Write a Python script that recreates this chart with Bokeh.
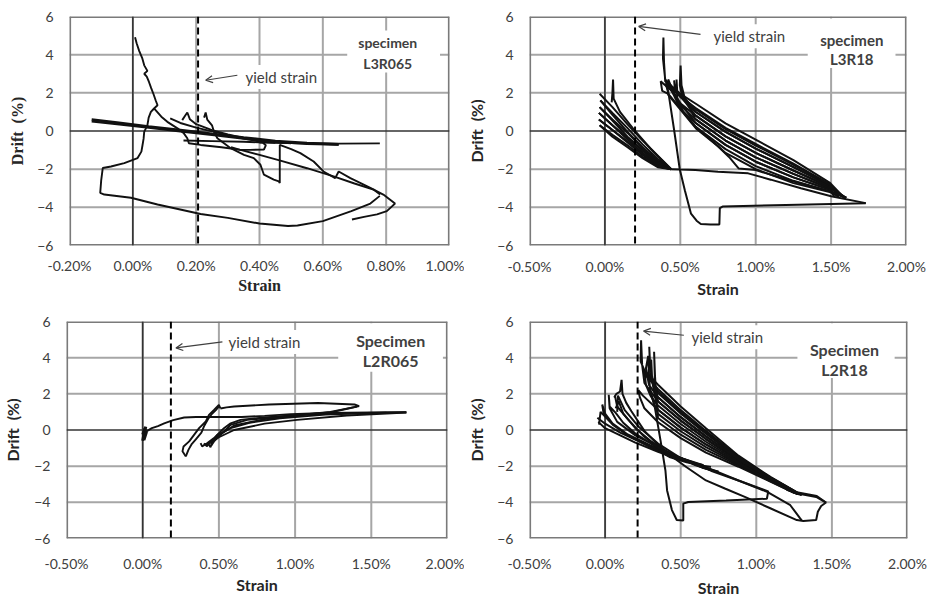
from bokeh.plotting import figure
from bokeh.layouts import column, row
from bokeh.models import (Span, Label, Arrow, OpenHead, BoxAnnotation, FixedTicker,
                          PrintfTickFormatter, Range1d)
from bokeh.embed import file_html
from bokeh.resources import INLINE

# ---------------- data (strain in %, drift in %) ----------------
DRIFT_TICKS = [-6, -4, -2, 0, 2, 4, 6]
STRAIN_TICKS_A = [-0.2, 0.0, 0.2, 0.4, 0.6, 0.8, 1.0]
STRAIN_TICKS_B = [-0.5, 0.0, 0.5, 1.0, 1.5, 2.0]

# specimen L3R065
l3r065_band_strain = [-0.13, -0.05, 0.05, 0.15, 0.25, 0.35, 0.45, 0.55, 0.65]
l3r065_band_drift_a = [0.60, 0.44, 0.24, 0.05, -0.15, -0.34, -0.52, -0.63, -0.70]
l3r065_band_drift_b = [0.50, 0.36, 0.17, -0.02, -0.21, -0.40, -0.57, -0.67, -0.72]
l3r065_strain = [
    [0.40, 0.55, 0.65, 0.78],
    [0.007, 0.012, 0.020, 0.030, 0.036, 0.046, 0.036, 0.044, 0.051, 0.058,
     0.066, 0.072, 0.078, 0.067, 0.057, 0.050, 0.046, 0.040, 0.036, 0.034,
     0.030, 0.027, 0.015, -0.027, -0.069, -0.095, -0.100, -0.103, -0.090, -0.006,
     0.078, 0.214, 0.30, 0.40, 0.49, 0.52, 0.60, 0.69, 0.75, 0.78],
    [0.067, 0.09, 0.109, 0.141, 0.160, 0.172, 0.177, 0.214, 0.28, 0.34,
     0.40, 0.466, 0.55, 0.634, 0.70, 0.76, 0.781],
    [0.16, 0.25, 0.35, 0.41, 0.42, 0.414, 0.37, 0.339, 0.31],
    [0.225, 0.23, 0.235, 0.25, 0.256, 0.267, 0.288, 0.309, 0.351, 0.382,
     0.403, 0.414, 0.445, 0.461, 0.464, 0.464, 0.50, 0.529, 0.571, 0.602,
     0.639, 0.65, 0.687, 0.75, 0.791, 0.828, 0.815, 0.802, 0.771, 0.73, 0.692],
    [0.118, 0.15, 0.20, 0.25, 0.30, 0.35, 0.40, 0.45],
    [0.156, 0.165, 0.172, 0.18, 0.20, 0.25, 0.30, 0.36, 0.42, 0.50],
]
l3r065_drift = [
    [-0.60, -0.64, -0.66, -0.65],
    [4.91, 4.60, 4.20, 3.80, 3.44, 3.15, 3.00, 2.85, 2.57, 2.25,
     1.90, 1.61, 1.35, 1.18, 1.00, 0.70, 0.31, 0.10, -0.03, -0.40,
     -0.80, -1.08, -1.42, -1.68, -1.86, -1.94, -2.60, -3.24, -3.33, -3.50,
     -3.85, -4.35, -4.55, -4.85, -4.98, -4.95, -4.72, -4.20, -3.80, -3.40],
    [1.18, 0.75, 0.48, 0.14, -0.10, -0.38, -0.64, -0.73, -0.85, -0.99,
     -1.25, -1.55, -1.95, -2.38, -2.75, -3.07, -3.33],
    [-0.50, -0.53, -0.56, -0.60, -0.75, -0.97, -0.99, -0.99, -0.85],
    [0.70, 0.97, 0.60, 0.30, -0.03, -0.38, -0.64, -0.90, -1.25, -1.42,
     -1.77, -2.29, -2.55, -2.64, -2.72, -0.73, -0.95, -1.16, -1.60, -2.12,
     -2.47, -2.12, -2.47, -2.98, -3.33, -3.80, -4.00, -4.20, -4.37, -4.50, -4.64],
    [0.66, 0.42, 0.18, -0.02, -0.22, -0.40, -0.55, -0.62],
    [0.57, 0.80, 0.97, 0.62, 0.36, 0.05, -0.18, -0.40, -0.55, -0.65],
]

# specimen L3R18
l3r18_strain = [
    [-0.035, 0.05, 0.15, 0.25, 0.35, 0.44, 0.35, 0.25, 0.15, 0.05, -0.03],
    [-0.03, 0.05, 0.15, 0.25, 0.35, 0.44, 0.35, 0.25, 0.15, 0.05, -0.035],
    [-0.035, 0.05, 0.15, 0.25, 0.35, 0.44, 0.35, 0.25, 0.15, 0.05, -0.04],
    [-0.04, 0.05, 0.15, 0.25, 0.35, 0.44, 0.35, 0.25, 0.15, 0.05, -0.04],
    [-0.04, 0.05, 0.15, 0.25, 0.35, 0.44, 0.35, 0.25, 0.15, 0.05, -0.035],
    [-0.035, 0.05, 0.15, 0.25, 0.35, 0.44],
    [0.045, 0.05, 0.054, 0.058, 0.10, 0.20, 0.30, 0.44],
    [0.44, 0.50, 0.60, 0.75, 0.95, 1.10, 1.30, 1.50, 1.73],
    [0.40, 0.42, 0.46, 0.496, 0.53, 0.571, 0.608, 0.636, 0.70, 0.759,
     0.762, 0.78, 1.20, 1.73],
    [1.58, 1.49, 1.25, 1.0, 0.8, 0.608, 0.50, 0.45, 0.40, 0.385, 0.388,
     0.392, 0.40, 0.45, 0.6, 0.8, 1.0, 1.25, 1.49, 1.55],
    [1.55, 1.49, 1.25, 1.0, 0.8, 0.6, 0.50, 0.47, 0.459,
     0.465, 0.5, 0.6, 0.8, 1.0, 1.25, 1.49, 1.58],
    [1.58, 1.49, 1.25, 1.0, 0.8, 0.6, 0.51, 0.497, 0.502,
     0.508, 0.53, 0.6, 0.8, 1.0, 1.25, 1.49, 1.6],
    [1.6, 1.49, 1.25, 1.0, 0.8, 0.6, 0.50, 0.45, 0.42,
     0.425, 0.45, 0.6, 0.8, 1.0, 1.25, 1.49, 1.52],
    [1.52, 1.49, 1.25, 1.0, 0.8, 0.6, 0.50, 0.45, 0.40, 0.37,
     0.38, 0.42, 0.6, 0.75, 0.823, 0.888, 1.0, 1.25, 1.49, 1.55],
    [1.55, 1.49, 1.25, 1.0, 0.8, 0.6, 0.50, 0.45, 0.41,
     0.42, 0.608, 0.75, 0.8, 1.0, 1.25, 1.49, 1.6],
    [1.6, 1.49, 1.25, 1.0, 0.8, 0.6, 0.52, 0.48, 0.475,
     0.48, 0.5, 0.6, 0.8, 1.0, 1.25, 1.49, 1.58],
]
l3r18_drift = [
    [1.95, 1.25, 0.35, -0.50, -1.30, -2.00, -1.55, -0.85, -0.05, 0.85, 1.60],
    [1.60, 0.95, 0.15, -0.70, -1.45, -2.00, -1.65, -1.00, -0.30, 0.55, 1.25],
    [1.25, 0.60, -0.10, -0.90, -1.60, -2.00, -1.75, -1.15, -0.45, 0.30, 0.95],
    [0.95, 0.30, -0.35, -1.05, -1.70, -2.00, -1.82, -1.25, -0.60, 0.05, 0.60],
    [0.60, 0.05, -0.55, -1.20, -1.78, -2.00, -1.90, -1.42, -0.85, -0.30, 0.30],
    [0.30, -0.20, -0.75, -1.35, -1.85, -2.00],
    [1.50, 2.00, 2.70, 1.70, 1.00, 0.00, -0.90, -2.00],
    [-2.00, -2.02, -2.05, -2.14, -2.22, -2.55, -3.00, -3.42, -3.78],
    [2.50, 2.08, 0.00, -1.99, -3.10, -4.33, -4.70, -4.87, -4.90, -4.90,
     -4.04, -3.96, -3.88, -3.78],
    [-3.44, -2.7, -1.53, -0.45, 0.4, 1.4, 1.95, 2.3, 2.7, 3.8, 4.9,
     3.6, 2.6, 2.18, 1.01, -0.05, -0.92, -1.89, -2.85, -3.4],
    [-3.4, -2.78, -1.71, -0.68, 0.17, 1.21, 1.8, 2.2, 2.65,
     2.1, 1.85, 0.82, -0.28, -1.15, -2.07, -2.92, -3.45],
    [-3.45, -2.85, -1.89, -0.92, -0.05, 1.01, 1.9, 2.4, 3.43,
     2.4, 1.7, 0.62, -0.5, -1.38, -2.25, -3.0, -3.5],
    [-3.5, -2.92, -2.07, -1.15, -0.28, 0.82, 1.45, 2.12, 2.7,
     2.4, 2.0, 0.43, -0.73, -1.61, -2.43, -3.07, -3.4],
    [-3.4, -3.0, -2.25, -1.38, -0.5, 0.62, 1.35, 2.06, 2.4, 2.6,
     2.1, 1.94, 0.23, -0.8, -1.36, -1.97, -2.05, -2.65, -3.15, -3.45],
    [-3.45, -3.07, -2.43, -1.61, -0.73, 0.43, 1.15, 2.0, 2.5,
     1.9, 0.1, -0.8, -1.15, -2.0, -2.73, -3.2, -3.5],
    [-3.5, -3.15, -2.61, -1.84, -0.95, 0.23, 1.0, 1.7, 2.7,
     2.0, 1.9, 1.15, 0.1, -0.76, -1.77, -2.8, -3.44],
]

# specimen L2R065
l2r065_knot_strain = [0.00, 0.015, 0.005, 0.02, 0.00, 0.018, 0.008, 0.025, 0.01]
l2r065_knot_drift = [-0.60, 0.10, -0.45, 0.18, -0.25, 0.05, -0.55, -0.10, -0.35]
l2r065_strain = [
    [0.00, 0.03, 0.06, 0.10, 0.141, 0.20, 0.272, 0.35, 0.45, 0.55,
     0.65, 0.80, 0.97, 1.20, 1.50, 1.73],
    [0.283, 0.261, 0.268, 0.305, 0.337, 0.37, 0.414, 0.435, 0.468, 0.50, 0.51],
    [0.283, 0.30, 0.32, 0.35, 0.385, 0.405, 0.43, 0.455, 0.48, 0.50],
    [0.51, 0.55, 0.60, 0.83, 1.15, 1.39, 1.42, 1.35, 1.25, 1.05,
     0.80, 0.60, 0.50, 0.45, 0.42, 0.40],
    [0.38, 0.39, 0.42, 0.468, 0.533, 0.577, 0.642, 0.80, 1.00, 1.30, 1.73],
    [0.435, 0.445, 0.46, 0.49, 0.577, 0.70, 0.90, 1.20, 1.60],
    [0.41, 0.42, 0.445, 0.50, 0.60, 0.80, 1.013, 1.34, 1.73],
    [0.45, 0.468, 0.50, 0.577, 0.686, 0.904, 1.231, 1.405],
]
l2r065_drift = [
    [-0.25, -0.05, 0.10, 0.22, 0.37, 0.55, 0.69, 0.72, 0.72, 0.72,
     0.72, 0.78, 0.88, 0.94, 0.97, 0.98],
    [-1.46, -1.18, -0.91, -0.63, -0.27, 0.10, 0.47, 0.84, 1.11, 1.39, 1.19],
    [-1.46, -1.10, -0.80, -0.50, -0.15, 0.25, 0.62, 0.90, 1.10, 1.30],
    [1.19, 1.25, 1.30, 1.41, 1.49, 1.41, 1.32, 1.19, 1.00, 0.83,
     0.60, 0.25, -0.30, -0.60, -0.85, -0.75],
    [-0.72, -0.91, -0.75, -0.45, 0.10, 0.37, 0.56, 0.70, 0.82, 0.92, 0.98],
    [-0.82, -0.95, -0.60, -0.27, 0.10, 0.40, 0.65, 0.85, 0.96],
    [-0.75, -0.90, -0.70, -0.40, 0.00, 0.35, 0.56, 0.80, 0.96],
    [-0.85, -0.63, -0.35, 0.28, 0.56, 0.74, 1.00, 1.29],
]

# specimen L2R18
l2r18_strain = [
    [-0.051, 0.0, 0.10, 0.217, 0.33, 0.431, 0.539, 0.646, 0.70],
    [0.60, 0.45, 0.30, 0.15, 0.05, -0.01, -0.019, 0.00, 0.05, 0.15, 0.30, 0.45, 0.60],
    [0.65, 0.50, 0.35, 0.20, 0.08, 0.03, 0.024, 0.03, 0.07, 0.12, 0.20, 0.35, 0.50, 0.65],
    [-0.04, -0.03, 0.05, 0.15, 0.30, 0.45, 0.60],
    [-0.045, 0.0, 0.10, 0.20, 0.35, 0.50, 0.65],
    [0.06, 0.075, 0.099, 0.109, 0.115, 0.14, 0.174, 0.26, 0.389, 0.539,
     0.667, 0.796, 0.924, 1.096, 1.268, 1.311, 1.396, 1.407, 1.429, 1.461,
     1.396, 1.30, 1.20],
    [0.065, 0.08, 0.15, 0.25, 0.35, 0.50, 0.667, 0.882, 1.075, 1.225, 1.29, 1.30],
    [0.07, 0.09, 0.12, 0.20, 0.30, 0.45, 0.60, 0.75],
    [0.08, 0.085, 0.13, 0.22, 0.35, 0.50, 0.65, 0.75],
    [1.28, 1.25, 1.096, 0.882, 0.667, 0.5, 0.35, 0.26, 0.235, 0.238,
     0.245, 0.26, 0.35, 0.5, 0.667, 0.882, 1.096, 1.25, 1.28],
    [1.28, 1.25, 1.096, 0.882, 0.667, 0.5, 0.35, 0.30, 0.292,
     0.30, 0.32, 0.35, 0.5, 0.667, 0.882, 1.096, 1.25, 1.27],
    [1.27, 1.25, 1.096, 0.882, 0.667, 0.5, 0.35, 0.33, 0.324,
     0.33, 0.34, 0.35, 0.5, 0.667, 0.882, 1.096, 1.25, 1.3],
    [1.3, 1.25, 1.096, 0.882, 0.667, 0.5, 0.35, 0.28, 0.26,
     0.27, 0.30, 0.35, 0.5, 0.667, 0.882, 1.096, 1.25, 1.40, 1.461],
    [1.26, 1.25, 1.096, 0.882, 0.667, 0.5, 0.35, 0.29, 0.27, 0.285,
     0.29, 0.30, 0.35, 0.5, 0.667, 0.882, 1.096, 1.25, 1.28],
    [1.28, 1.25, 1.096, 0.882, 0.667, 0.5, 0.35, 0.25, 0.22,
     0.23, 0.26, 0.35, 0.5, 0.667, 0.882, 1.096, 1.25],
    [1.27, 1.25, 1.096, 0.882, 0.667, 0.5, 0.35, 0.31, 0.305,
     0.31, 0.33, 0.35, 0.5, 0.667, 0.882, 1.096, 1.25, 1.28],
    [0.30, 0.33, 0.367, 0.399, 0.41, 0.442, 0.474, 0.517, 0.517, 0.55,
     0.80, 1.07, 1.079, 0.90, 0.70, 0.55, 0.40, 0.30],
]
l2r18_drift = [
    [0.68, 0.35, -0.15, -0.60, -1.05, -1.51, -1.78, -1.97, -2.05],
    [-1.85, -1.40, -0.85, -0.25, 0.35, 0.90, 1.41, 0.90, 0.35, -0.25, -0.90, -1.45, -1.88],
    [-1.95, -1.55, -0.95, -0.30, 0.45, 1.20, 1.95, 1.30, 0.95, 0.40, -0.20, -1.00, -1.55, -1.98],
    [0.30, 1.00, 0.30, -0.30, -0.95, -1.45, -1.85],
    [0.45, 0.10, -0.30, -0.70, -1.20, -1.65, -1.95],
    [1.80, 2.00, 2.13, 2.77, 2.00, 1.50, 1.04, -0.05, -1.15, -2.06,
     -2.79, -3.25, -3.70, -4.34, -4.98, -5.03, -4.98, -4.52, -4.20, -4.01,
     -3.70, -3.55, -3.30],
    [1.90, 1.30, 0.60, -0.30, -1.00, -1.55, -2.06, -2.79, -3.43, -4.16, -4.89, -5.00],
    [1.20, 1.60, 0.90, 0.10, -0.60, -1.40, -1.95, -2.35],
    [1.00, 1.90, 1.10, 0.20, -0.75, -1.55, -2.10, -2.30],
    [-3.5, -3.35, -2.61, -1.42, 0.1, 1.3, 2.5, 3.3, 3.8, 4.96,
     3.6, 2.6, 1.58, 0.52, -0.5, -1.69, -2.73, -3.41, -3.52],
    [-3.52, -3.38, -2.67, -1.56, -0.2, 0.91, 2.04, 2.8, 4.6,
     3.2, 2.3, 1.12, 0.13, -0.8, -1.83, -2.78, -3.44, -3.55],
    [-3.55, -3.41, -2.73, -1.69, -0.5, 0.52, 1.58, 2.6, 4.33,
     3.0, 1.5, 0.66, -0.26, -1.1, -1.96, -2.84, -3.47, -3.6],
    [-3.6, -3.36, -2.64, -1.49, -0.05, 1.1, 2.27, 2.9, 3.3,
     2.5, 1.9, 1.35, 0.33, -0.65, -1.76, -2.75, -3.42, -3.65, -4.01],
    [-3.5, -3.4, -2.7, -1.62, -0.35, 0.71, 1.81, 2.5, 3.4, 4.1,
     3.0, 2.0, 0.89, -0.07, -0.95, -1.9, -2.81, -3.46, -3.55],
    [-3.55, -3.44, -2.78, -1.83, -0.8, 0.13, 1.12, 1.9, 2.2,
     1.8, 1.2, 0.43, -0.45, -1.25, -2.03, -2.87, -3.48],
    [-3.5, -3.37, -2.65, -1.52, -0.12, 1.0, 2.15, 2.8, 3.9,
     3.0, 2.2, 1.81, 0.71, -0.35, -1.62, -2.7, -3.4, -3.52],
    [2.20, 1.20, -0.60, -2.24, -3.34, -4.43, -4.98, -5.01, -4.07, -3.98,
     -3.90, -3.80, -3.40, -2.85, -2.25, -1.75, -1.20, -0.70],
]

for xs_, ys_ in [(l3r065_strain, l3r065_drift), (l3r18_strain, l3r18_drift),
                 (l2r065_strain, l2r065_drift), (l2r18_strain, l2r18_drift)]:
    assert len(xs_) == len(ys_)
    for i, (a, b) in enumerate(zip(xs_, ys_)):
        assert len(a) == len(b), (i, len(a), len(b))

TEXT = "#404040"
CURVE = "#111111"
GRID = "#a6a6a6"
FRAME = "#7a7a7a"


def make_panel(w, h, left, right, top, bottom, x0, x1, xticks,
               title_font, title_size, xlab_std, xtit_std, ylab_std, ytit_std):
    p = figure(width=w, height=h, x_range=Range1d(x0, x1), y_range=Range1d(-6, 6),
               output_backend="svg", toolbar_location=None,
               min_border_left=left, min_border_right=right,
               min_border_top=top, min_border_bottom=bottom)
    p.background_fill_color = "white"
    p.border_fill_color = "white"
    p.outline_line_color = None
    p.grid.visible = False
    p.xaxis.ticker = FixedTicker(ticks=xticks)
    p.xaxis.formatter = PrintfTickFormatter(format="%.2f%%")
    p.yaxis.ticker = FixedTicker(ticks=DRIFT_TICKS)
    for ax in (p.xaxis[0], p.yaxis[0]):
        ax.axis_line_color = None
        ax.major_tick_line_color = None
        ax.minor_tick_line_color = None
        ax.major_tick_out = 0
        ax.major_tick_in = 0
        ax.major_label_text_font = "Lato"
        ax.major_label_text_font_size = "14px"
        ax.major_label_text_color = TEXT
        ax.axis_label_text_font = title_font
        ax.axis_label_text_font_style = "bold"
        ax.axis_label_text_font_size = title_size
        ax.axis_label_text_color = "#262626"
    p.xaxis.axis_label = "Strain"
    p.yaxis.axis_label = "Drift\u00a0\u00a0(%)"
    p.xaxis.major_label_standoff = xlab_std
    p.xaxis.axis_label_standoff = xtit_std
    p.yaxis.major_label_standoff = ylab_std
    p.yaxis.axis_label_standoff = ytit_std
    # gridlines: vertical as strokes, horizontal as thin filled bars
    inner_x = [t for t in xticks if x0 < t < x1]
    inner_y = [t for t in DRIFT_TICKS if -6 < t < 6 and t != 0]
    p.multi_line([[t, t] for t in inner_x], [[-6, 6] for t in inner_x],
                 line_color=GRID, line_width=2)
    p.rect(x=[(x0 + x1) / 2] * len(inner_y), y=inner_y,
           width=[x1 - x0] * len(inner_y), height=2, height_units="screen",
           fill_color=GRID, line_color=None)
    # frame border: left/right as strokes, top/bottom as filled bars
    p.multi_line([[x0, x0], [x1, x1]], [[-6, 6], [-6, 6]],
                 line_color=FRAME, line_width=3.2)
    p.rect(x=[(x0 + x1) / 2] * 2, y=[-6, 6], width=[x1 - x0] * 2,
           height=3.2, height_units="screen", fill_color=FRAME, line_color=None)
    # zero axes
    p.multi_line([[0, 0], [x0, x1]], [[-6, 6], [0, 0]],
                 line_color="#333333", line_width=1.6)
    return p


def add_yield(p, sx, tx, ty, ax0, ay0, ax1, ay1):
    p.add_layout(Span(location=sx, dimension="height", line_color="black",
                      line_width=2, line_dash="7 4"))
    p.add_layout(Label(x=tx, y=ty, text="yield strain", text_font="Lato",
                       text_font_size="15px", text_color=TEXT,
                       text_baseline="middle", text_align="left",
                       background_fill_color="white", padding=3))
    p.add_layout(Arrow(end=OpenHead(size=7, line_width=1.2, line_color=TEXT),
                       x_start=ax0, y_start=ay0, x_end=ax1, y_end=ay1,
                       line_width=1.2, line_color=TEXT))


def add_specimen(p, box, cx, y1, y2, t1, t2, size):
    p.add_layout(BoxAnnotation(left=box[0], right=box[1], bottom=box[2], top=box[3],
                               fill_color="white", fill_alpha=1.0, line_color=None))
    for yy, tt in ((y1, t1), (y2, t2)):
        p.add_layout(Label(x=cx, y=yy, text=tt, text_font="Lato",
                           text_font_size=size, text_font_style="bold",
                           text_color=TEXT, text_align="center",
                           text_baseline="middle"))


# ---- panel 1 ----
p1 = make_panel(464, 300, 69, 15, 16, 54, -0.2, 1.0, STRAIN_TICKS_A,
                "Liberation Serif", "16px", 11, 0, 16, 8)
add_yield(p1, 0.206, 0.346, 2.83, 0.33, 2.92, 0.23, 2.66)
p1.line(l3r065_band_strain, l3r065_band_drift_a, line_color=CURVE, line_width=2.6)
p1.line(l3r065_band_strain, l3r065_band_drift_b, line_color=CURVE, line_width=2.2)
p1.multi_line(l3r065_strain, l3r065_drift, line_color=CURVE, line_width=1.9)
add_specimen(p1, (0.677, 0.97, 3.07, 5.26), 0.805, 4.64, 3.54, "specimen", "L3R065", "14px")

# ---- panel 2 ----
p2 = make_panel(464, 300, 53, 22, 15, 54, -0.5, 2.0, STRAIN_TICKS_B,
                "Lato", "16px", 12, 1, 16, 8)
add_yield(p2, 0.20, 0.70, 4.96, 0.634, 5.06, 0.224, 5.48)
p2.multi_line(l3r18_strain, l3r18_drift, line_color=CURVE, line_width=2.0)
add_specimen(p2, (1.345, 1.927, 3.3, 5.9), 1.637, 4.79, 3.75, "specimen", "L3R18", "15px")

# ---- panel 3 ----
p3 = make_panel(464, 301, 64, 17, 20, 63, -0.5, 2.0, STRAIN_TICKS_B,
                "Lato", "16px", 16, 0, 16, 9)
add_yield(p3, 0.185, 0.544, 4.87, 0.523, 4.87, 0.218, 4.54)
p3.line(l2r065_knot_strain, l2r065_knot_drift, line_color=CURVE, line_width=3)
p3.multi_line(l2r065_strain, l2r065_drift, line_color=CURVE, line_width=1.9)
add_specimen(p3, (1.283, 1.97, 3.22, 5.9), 1.627, 4.93, 3.82, "Specimen", "L2R065", "16px")

# ---- panel 4 ----
p4 = make_panel(464, 301, 53, 21, 21, 61, -0.5, 2.0, STRAIN_TICKS_B,
                "Lato", "16px", 16, 3, 16, 8)
add_yield(p4, 0.215, 0.551, 5.13, 0.521, 5.24, 0.254, 5.47)
p4.multi_line(l2r18_strain, l2r18_drift, line_color=CURVE, line_width=2.0)
add_specimen(p4, (1.272, 1.915, 2.87, 5.9), 1.583, 4.46, 3.36, "Specimen", "L2R18", "16px")

layout = column(row(p1, p2, spacing=0), row(p3, p4, spacing=0), spacing=0)
open("out.html", "w").write(file_html(layout, INLINE, title="Strain vs drift"))
